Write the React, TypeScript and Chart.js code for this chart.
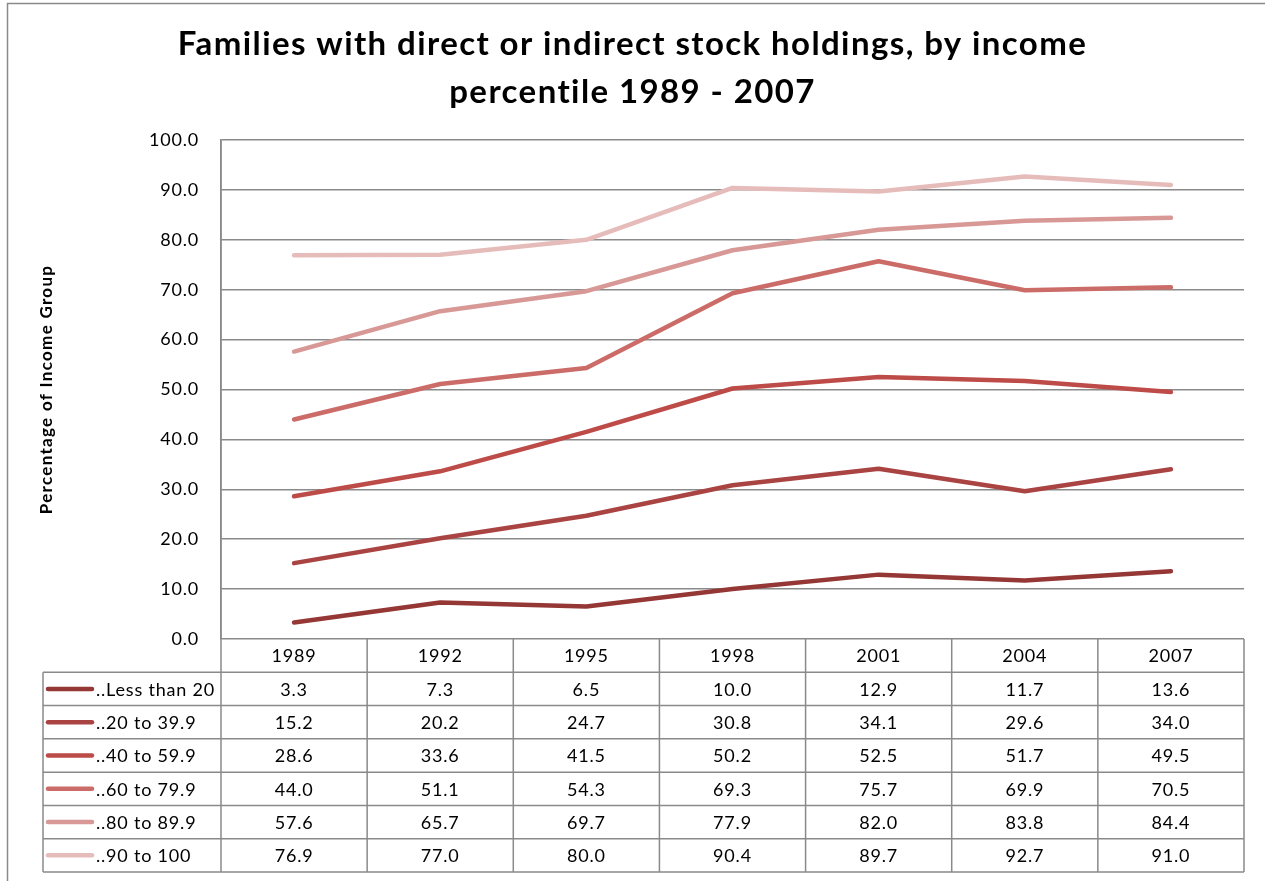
import React, { useEffect, useRef } from 'react';
import { Chart, registerables } from 'chart.js';

Chart.register(...registerables);

const years = ['1989', '1992', '1995', '1998', '2001', '2004', '2007'];
const seriesLabels = ['..Less than 20', '..20 to 39.9', '..40 to 59.9', '..60 to 79.9', '..80 to 89.9', '..90 to 100'];
const lessThan20 = [3.3, 7.3, 6.5, 10.0, 12.9, 11.7, 13.6];
const from20to39 = [15.2, 20.2, 24.7, 30.8, 34.1, 29.6, 34.0];
const from40to59 = [28.6, 33.6, 41.5, 50.2, 52.5, 51.7, 49.5];
const from60to79 = [44.0, 51.1, 54.3, 69.3, 75.7, 69.9, 70.5];
const from80to89 = [57.6, 65.7, 69.7, 77.9, 82.0, 83.8, 84.4];
const from90to100 = [76.9, 77.0, 80.0, 90.4, 89.7, 92.7, 91.0];
const seriesValues = [lessThan20, from20to39, from40to59, from60to79, from80to89, from90to100];
const seriesColors = ['#953735', '#A94442', '#BD4B48', '#CB6C69', '#D79896', '#E6BCBB'];

const titleLines = ['Families with direct or indirect stock holdings, by income', 'percentile 1989 - 2007'];
const yAxisTitle = 'Percentage of Income Group';

const FONT = 'Lato, "Open Sans", sans-serif';
const GRID = '#8a8a8a';

const decorPlugin = {
  id: 'decor',
  beforeDraw(chart: any) {
    const ctx = chart.ctx;
    ctx.save();
    ctx.strokeStyle = GRID;
    ctx.lineWidth = 1.5;
    ctx.strokeRect(7.5, 3.5, chart.width + 20, chart.height + 20);
    ctx.restore();
    ctx.letterSpacing = '0.8px';
  },
  afterDraw(chart: any) {
    const ctx = chart.ctx;
    const area = chart.chartArea;
    const xs = chart.scales.x;
    const n = years.length;
    const colW = (area.right - area.left) / n;
    const top = area.bottom;
    const bottom = xs.bottom;
    const rows = seriesLabels.length + 1;
    const rowH = (bottom - top) / rows;
    const legendLeft = 43;

    ctx.save();
    // title
    ctx.fillStyle = '#000';
    ctx.textAlign = 'center';
    ctx.textBaseline = 'alphabetic';
    ctx.letterSpacing = '1.4px';
    ctx.font = `bold 33px ${FONT}`;
    ctx.fillText(titleLines[0], chart.width / 2, 55);
    ctx.fillText(titleLines[1], chart.width / 2, 103);

    // y axis title
    ctx.save();
    ctx.translate(47, (area.top + area.bottom) / 2);
    ctx.rotate(-Math.PI / 2);
    ctx.letterSpacing = '1.3px';
    ctx.font = `bold 17px ${FONT}`;
    ctx.textBaseline = 'middle';
    ctx.fillText(yAxisTitle, 0, 0);
    ctx.restore();

    // table lines
    ctx.letterSpacing = '0.8px';
    ctx.strokeStyle = GRID;
    ctx.lineWidth = 1.5;
    ctx.beginPath();
    for (let r = 1; r <= rows; r++) {
      const y = top + r * rowH;
      ctx.moveTo(legendLeft, y);
      ctx.lineTo(area.right, y);
    }
    for (let i = 0; i <= n; i++) {
      const x = xs.getPixelForValue(Math.min(i, n - 1)) + (i === n ? colW / 2 : -colW / 2);
      ctx.moveTo(x, i === 0 ? area.top : top);
      ctx.lineTo(x, bottom);
    }
    ctx.moveTo(legendLeft, top + rowH);
    ctx.lineTo(legendLeft, bottom);
    ctx.stroke();

    // header
    ctx.fillStyle = '#000';
    ctx.font = `18px ${FONT}`;
    ctx.textAlign = 'center';
    ctx.textBaseline = 'middle';
    years.forEach((yr, i) => {
      ctx.fillText(yr, xs.getPixelForValue(i), top + rowH / 2 + 1);
    });
    // rows
    seriesLabels.forEach((lab, s) => {
      const cy = top + (s + 1) * rowH + rowH / 2 + 1;
      ctx.strokeStyle = seriesColors[s];
      ctx.lineWidth = 4.5;
      ctx.lineCap = 'round';
      ctx.beginPath();
      ctx.moveTo(48, cy - 1);
      ctx.lineTo(92, cy - 1);
      ctx.stroke();
      ctx.textAlign = 'left';
      ctx.fillStyle = '#000';
      ctx.fillText(lab, 96, cy);
      ctx.textAlign = 'center';
      seriesValues[s].forEach((v, i) => {
        ctx.fillText(v.toFixed(1), xs.getPixelForValue(i), cy);
      });
    });
    ctx.restore();
    ctx.letterSpacing = '0px';
  },
};

export default function App() {
  const ref = useRef<HTMLCanvasElement>(null);
  useEffect(() => {
    if (!ref.current) return;
    const chart = new Chart(ref.current, {
      type: 'line',
      data: {
        labels: years,
        datasets: seriesLabels.map((lab, s) => ({
          label: lab,
          data: seriesValues[s],
          borderColor: seriesColors[s],
          backgroundColor: seriesColors[s],
          borderWidth: 4.5,
          pointRadius: 0,
          tension: 0,
          borderCapStyle: 'round',
          borderJoinStyle: 'round',
        })),
      },
      options: {
        animation: false,
        responsive: false,
        layout: { padding: { left: 0, top: 140, right: 21, bottom: 9 } },
        plugins: { legend: { display: false }, title: { display: false }, tooltip: { enabled: false } },
        scales: {
          x: {
            offset: true,
            ticks: { display: false },
            grid: { display: false },
            border: { display: false },
            afterFit(scale: any) { scale.height = 233; },
          },
          y: {
            min: 0,
            max: 100,
            ticks: {
              stepSize: 10,
              padding: 22,
              color: '#000',
              font: { family: FONT, size: 18 },
              callback: (v: any) => Number(v).toFixed(1),
            },
            grid: { color: GRID, lineWidth: 1.5, drawTicks: false },
            border: { color: GRID, width: 1.5 },
            afterFit(scale: any) { scale.width = 221; },
          },
        },
      },
      plugins: [decorPlugin],
    } as any);
    return () => chart.destroy();
  }, []);
  return (
    <div style={{ position: 'absolute', left: 0, top: 0, width: 1265, height: 881, background: '#fff' }}>
      <canvas ref={ref} width={1265} height={881} style={{ display: 'block', width: 1265, height: 881 }} />
    </div>
  );
}
